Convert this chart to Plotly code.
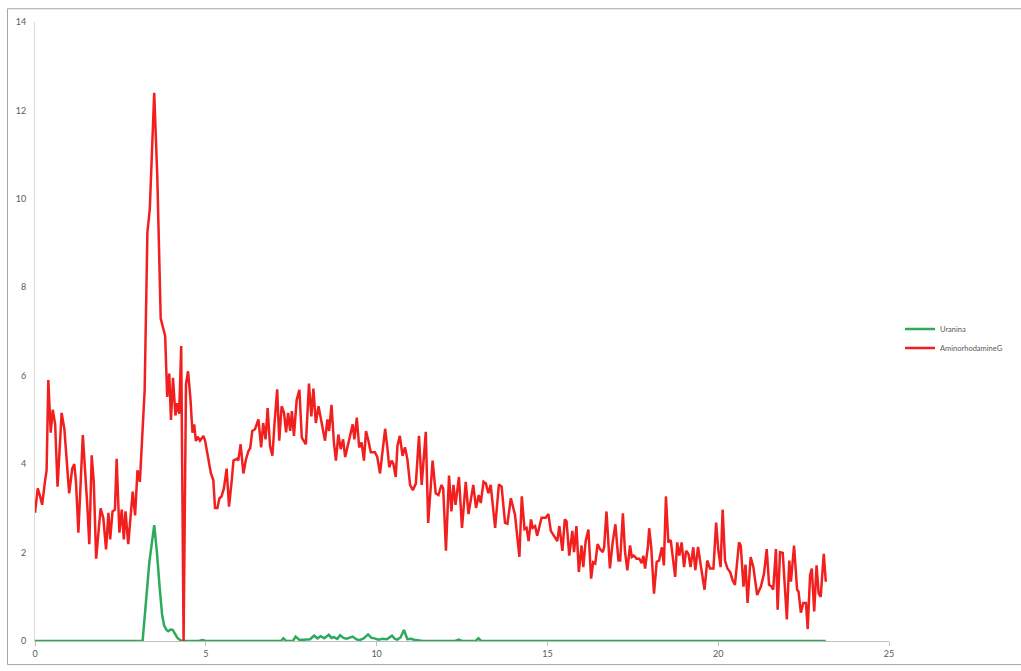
import plotly.graph_objects as go

# ---- AminorhodamineG (red) ----
rhod_x = [0.0, 0.08, 0.15, 0.21, 0.29, 0.34, 0.39, 0.46, 0.52, 0.59,
          0.66, 0.78, 0.86, 0.93, 1.0, 1.09, 1.15, 1.2, 1.27, 1.4,
          1.46, 1.53, 1.59, 1.66, 1.72, 1.79, 1.92, 2.0, 2.08, 2.15,
          2.2, 2.27, 2.34, 2.39, 2.47, 2.54, 2.6, 2.65, 2.73, 2.86,
          2.93, 3.0, 3.07, 3.14, 3.21, 3.29, 3.36, 3.49, 3.58, 3.68,
          3.77, 3.81, 3.87, 3.93, 3.98, 4.04, 4.11, 4.16, 4.22, 4.28,
          4.35, 4.42, 4.48, 4.55, 4.61, 4.66, 4.71, 4.76, 4.83, 4.88,
          4.93, 4.98, 5.07, 5.15, 5.22, 5.27, 5.34, 5.4, 5.46, 5.53,
          5.61, 5.68, 5.76, 5.81, 5.91, 5.95, 6.02, 6.1, 6.18, 6.25,
          6.3, 6.36, 6.44, 6.54, 6.62, 6.68, 6.75, 6.81, 6.88, 6.95,
          7.02, 7.09, 7.15, 7.22, 7.29, 7.35, 7.41, 7.47, 7.52, 7.58,
          7.66, 7.74, 7.81, 7.93, 8.02, 8.09, 8.15, 8.22, 8.3, 8.38,
          8.49, 8.56, 8.61, 8.68, 8.75, 8.81, 8.88, 8.95, 9.02, 9.08,
          9.17, 9.3, 9.35, 9.42, 9.49, 9.56, 9.63, 9.69, 9.76, 9.83,
          9.95, 10.02, 10.1, 10.18, 10.25, 10.32, 10.37, 10.44, 10.49, 10.56,
          10.61, 10.68, 10.76, 10.83, 10.9, 10.98, 11.06, 11.15, 11.24, 11.32,
          11.44, 11.51, 11.64, 11.73, 11.81, 11.9, 11.95, 12.03, 12.12, 12.19,
          12.25, 12.31, 12.41, 12.5, 12.61, 12.69, 12.83, 12.91, 12.99, 13.05,
          13.13, 13.2, 13.27, 13.34, 13.47, 13.58, 13.66, 13.76, 13.83, 13.93,
          14.05, 14.18, 14.25, 14.33, 14.39, 14.45, 14.52, 14.57, 14.64, 14.7,
          14.83, 14.95, 15.03, 15.1, 15.22, 15.29, 15.35, 15.44, 15.51, 15.56,
          15.64, 15.73, 15.78, 15.85, 15.92, 16.0, 16.05, 16.12, 16.2, 16.28,
          16.34, 16.4, 16.47, 16.54, 16.62, 16.66, 16.73, 16.83, 16.91, 16.99,
          17.08, 17.13, 17.21, 17.27, 17.34, 17.42, 17.47, 17.52, 17.57, 17.61,
          17.69, 17.76, 17.81, 17.86, 17.94, 17.98, 18.04, 18.12, 18.2, 18.27,
          18.35, 18.41, 18.47, 18.54, 18.61, 18.74, 18.8, 18.86, 18.93, 19.0,
          19.06, 19.13, 19.19, 19.27, 19.33, 19.41, 19.49, 19.6, 19.68, 19.76,
          19.86, 19.94, 20.0, 20.07, 20.13, 20.2, 20.27, 20.35, 20.42, 20.49,
          20.61, 20.66, 20.74, 20.8, 20.86, 20.95, 21.03, 21.14, 21.25, 21.34,
          21.42, 21.49, 21.56, 21.61, 21.69, 21.74, 21.81, 21.89, 22.01, 22.08,
          22.13, 22.22, 22.31, 22.35, 22.42, 22.49, 22.57, 22.62, 22.69, 22.74,
          22.81, 22.88, 22.94, 23.0, 23.09, 23.15]
rhod_y = [2.90, 3.45, 3.27, 3.08, 3.6, 3.86, 5.9, 4.71, 5.23, 4.9,
          3.49, 5.16, 4.79, 4.12, 3.34, 3.9, 4.0, 3.6, 2.45, 4.66,
          3.97, 3.08, 2.19, 4.2, 3.6, 1.86, 3.0, 2.78, 2.07, 2.9,
          2.3, 2.93, 2.97, 4.12, 2.45, 2.97, 2.3, 2.93, 2.19, 3.38,
          2.84, 3.86, 3.6, 4.6, 5.67, 9.24, 9.76, 12.4, 10.5, 7.29,
          7.0, 6.9, 5.52, 6.05, 5.0, 5.95, 5.1, 5.38, 5.14, 6.67,
          0.0, 5.81, 6.1, 5.48, 4.71, 4.9, 4.52, 4.62, 4.53, 4.6,
          4.64, 4.53, 4.12, 3.79, 3.64, 3.01, 3.01, 3.23, 3.27, 3.45,
          3.9, 3.04, 3.64, 4.08, 4.12, 4.08, 4.45, 3.79, 4.12, 4.3,
          4.36, 4.75, 4.79, 5.01, 4.38, 4.93, 4.56, 5.27, 4.41, 4.19,
          5.01, 5.69, 4.53, 5.31, 5.16, 4.72, 5.16, 4.75, 5.2, 4.64,
          5.45, 5.68, 4.6, 4.45, 5.82, 5.08, 5.71, 4.93, 5.31, 5.01,
          4.53, 5.01, 4.75, 5.34, 4.49, 4.08, 4.67, 4.34, 4.56, 4.16,
          4.45, 4.9, 4.56, 5.05, 4.38, 4.49, 4.08, 4.75, 4.53, 4.27,
          4.27, 4.16, 3.79, 4.41, 4.8, 4.34, 3.93, 4.08, 4.01, 3.71,
          4.41, 4.64, 4.19, 4.38, 4.12, 3.53, 3.41, 3.56, 4.64, 3.53,
          4.73, 2.67, 4.08, 3.34, 3.3, 3.53, 3.45, 2.04, 3.74, 2.93,
          3.53, 3.08, 3.71, 2.56, 3.6, 2.87, 3.53, 3.01, 3.3, 3.12,
          3.6, 3.56, 3.34, 3.53, 2.56, 3.54, 3.49, 2.67, 2.65, 3.23,
          2.86, 1.9, 3.27, 2.53, 2.56, 2.26, 2.75, 2.56, 2.6, 2.38,
          2.79, 2.79, 2.87, 2.49, 2.34, 2.26, 2.6, 2.04, 2.75, 2.71,
          1.93, 2.49, 2.01, 2.6, 1.56, 2.16, 1.67, 2.26, 2.52, 1.41,
          1.78, 1.75, 2.19, 2.08, 2.01, 2.12, 2.93, 1.64, 2.23, 2.64,
          1.82, 1.82, 2.89, 2.04, 1.6, 2.16, 1.9, 1.93, 1.9, 1.86,
          1.86, 1.76, 1.93, 1.64, 2.12, 2.55, 2.12, 1.07, 1.79, 1.82,
          2.12, 1.71, 3.27, 2.23, 2.28, 1.45, 2.23, 1.93, 2.23, 1.67,
          2.04, 1.97, 1.67, 2.12, 1.6, 2.13, 1.71, 1.16, 1.82, 1.64,
          1.64, 2.68, 2.08, 1.67, 2.97, 1.82, 1.64, 1.56, 1.38, 1.27,
          2.23, 2.16, 1.23, 1.73, 0.86, 1.9, 1.67, 1.04, 1.23, 1.52,
          2.08, 1.27, 1.23, 1.16, 2.08, 0.71, 2.01, 1.99, 0.49, 1.82,
          1.34, 2.16, 1.16, 1.12, 0.64, 0.86, 0.86, 0.27, 1.49, 1.64,
          0.67, 1.71, 1.08, 1.0, 1.97, 1.34]

# ---- Uranina (green) ----
uran_x = [0.0, 3.15, 3.25, 3.35, 3.49, 3.57, 3.65, 3.72, 3.78, 3.85,
          3.9, 3.97, 4.03, 4.1, 4.17, 4.25, 4.35, 4.8, 4.9, 5.0,
          7.2, 7.27, 7.35, 7.55, 7.63, 7.75, 7.9, 8.05, 8.17, 8.27,
          8.36, 8.47, 8.6, 8.68, 8.75, 8.85, 8.93, 9.03, 9.12, 9.2,
          9.3, 9.4, 9.5, 9.62, 9.75, 9.85, 9.94, 10.05, 10.17, 10.3,
          10.45, 10.53, 10.6, 10.7, 10.8, 10.9, 11.0, 11.1, 11.24, 11.35,
          12.3, 12.4, 12.5, 12.9, 12.98, 13.06, 23.15]
uran_y = [0.0, 0.0, 0.9, 1.8, 2.62, 2.0, 1.2, 0.6, 0.35, 0.25,
          0.22, 0.26, 0.25, 0.15, 0.07, 0.02, 0.0, 0.0, 0.02, 0.0,
          0.0, 0.06, 0.0, 0.0, 0.1, 0.02, 0.03, 0.04, 0.12, 0.06,
          0.11, 0.06, 0.14, 0.07, 0.09, 0.05, 0.13, 0.07, 0.05, 0.08,
          0.1, 0.04, 0.02, 0.06, 0.15, 0.07, 0.06, 0.03, 0.05, 0.04,
          0.12, 0.05, 0.03, 0.08, 0.25, 0.04, 0.05, 0.03, 0.02, 0.0,
          0.0, 0.03, 0.0, 0.0, 0.06, 0.0, 0.0]

x_ticks = [0, 5, 10, 15, 20, 25]
y_ticks = [0, 2, 4, 6, 8, 10, 12, 14]

assert len(rhod_x) == len(rhod_y), (len(rhod_x), len(rhod_y))
assert len(uran_x) == len(uran_y), (len(uran_x), len(uran_y))

W, H = 1021, 671
ML, MR, MT, MB = 35, 132, 22, 19
PW, PH = W - ML - MR, H - MT - MB

fig = go.Figure()
fig.add_trace(go.Scatter(x=uran_x, y=uran_y, mode="lines", name="Uranina",
                         line=dict(color="#2eaa5c", width=2.5)))
fig.add_trace(go.Scatter(x=rhod_x, y=rhod_y, mode="lines", name="AminorhodamineG",
                         line=dict(color="#f21f1f", width=2.5)))

tickfont = dict(family="Lato, Open Sans, sans-serif", size=9, color="#595959")

fig.update_layout(
    width=W, height=H, autosize=False,
    margin=dict(l=ML, r=MR, t=MT, b=MB),
    paper_bgcolor="white", plot_bgcolor="white",
    showlegend=True,
    legend=dict(x=(900 - ML) / PW, y=(MT + PH - 344) / PH, xanchor="left", yanchor="middle",
                font=dict(family="Lato, Open Sans, sans-serif", size=7.5, color="#595959"),
                bgcolor="rgba(0,0,0,0)", itemwidth=30, tracegroupgap=0),
    xaxis=dict(range=[0, 25], tickvals=x_ticks, ticktext=[str(v) for v in x_ticks],
               showgrid=False, zeroline=False, showline=True, linecolor="#bfbfbf",
               linewidth=1, ticks="outside", ticklen=4, tickcolor="#bfbfbf",
               tickfont=tickfont),
    yaxis=dict(range=[0, 14], tickvals=y_ticks, ticktext=[str(v) for v in y_ticks],
               showgrid=False, zeroline=False, showline=True, linecolor="#d9d9d9",
               linewidth=1, ticks="", tickfont=tickfont, ticklabelstandoff=6),
    # outer chart-area frame (top and left edges visible, others beyond the page edge)
    shapes=[dict(type="rect", xref="paper", yref="paper",
                 x0=(7.5 - ML) / PW, x1=(W + 5 - ML) / PW,
                 y0=-(H + 5 - MT - PH) / PH, y1=1 + (MT - 8.5) / PH,
                 line=dict(color="#a6a6a6", width=1), fillcolor="rgba(0,0,0,0)",
                 layer="below")],
)

fig.write_html(
    "out.html",
    config={"responsive": False, "displayModeBar": False},
    post_script="document.body.style.margin='0';document.body.style.overflow='hidden';",
)
